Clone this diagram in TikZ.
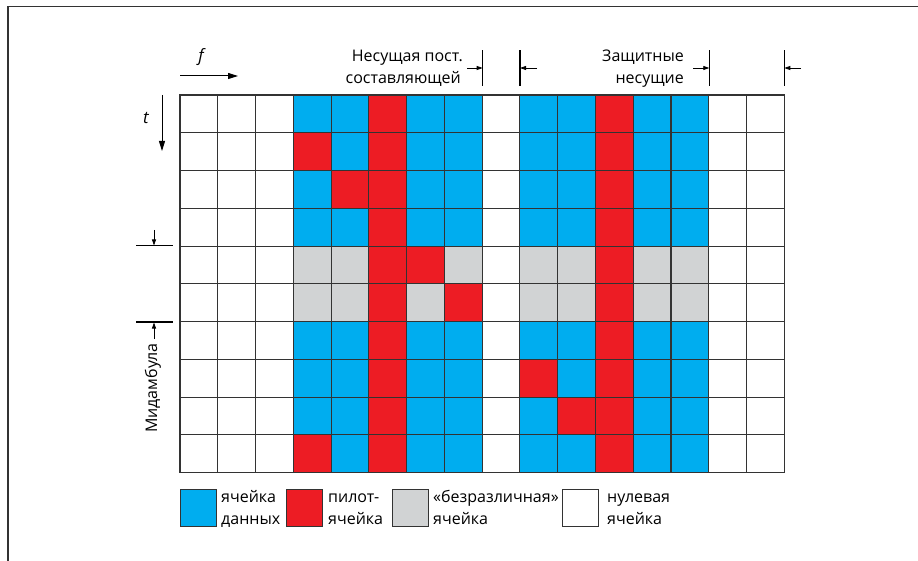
\documentclass[tikz,border=0pt]{standalone}
\usepackage{fontspec}
\setmainfont{Open Sans}
\usetikzlibrary{arrows.meta}
\definecolor{cB}{HTML}{00ADEF}
\definecolor{cR}{HTML}{ED1C24}
\definecolor{cG}{HTML}{D1D3D4}
\definecolor{cW}{HTML}{FFFFFF}
\definecolor{cline}{HTML}{333333}
\begin{document}
\begin{tikzpicture}[x=1pt,y=-1pt,
  lbl/.style={font=\fontsize{16}{19}\selectfont, inner sep=0pt},
  cellline/.style={draw=cline, line width=1.1pt},
  bar/.style={line width=1.5pt, black},
  smallarr/.style={line width=0.8pt, -{Triangle[length=6pt,width=4pt]}},
  bigarr/.style={line width=1pt, -{Triangle[length=10pt,width=6pt]}},
  legbox/.style={draw=cline, line width=1pt, minimum width=36pt, minimum height=37pt, inner sep=0pt, anchor=north west}]
\useasboundingbox (0,0) rectangle (918,561);
\draw[line width=1.5pt, cline] (8,561) -- (8,6.5) -- (918,6.5);
% grid
\foreach \row [count=\r from 0] in {
 {W,W,W,B,B,R,B,B,W,B,B,R,B,B,W,W},
 {W,W,W,R,B,R,B,B,W,B,B,R,B,B,W,W},
 {W,W,W,B,R,R,B,B,W,B,B,R,B,B,W,W},
 {W,W,W,B,B,R,B,B,W,B,B,R,B,B,W,W},
 {W,W,W,G,G,R,R,G,W,G,G,R,G,G,W,W},
 {W,W,W,G,G,R,G,R,W,G,G,R,G,G,W,W},
 {W,W,W,B,B,R,B,B,W,B,B,R,B,B,W,W},
 {W,W,W,B,B,R,B,B,W,R,B,R,B,B,W,W},
 {W,W,W,B,B,R,B,B,W,B,R,R,B,B,W,W},
 {W,W,W,R,B,R,B,B,W,B,B,R,B,B,W,W}} {
  \foreach \c [count=\k from 0] in \row {
    \path[fill=c\c, cellline] ({180+\k*37.77},{95+\r*37.77}) rectangle ++(37.77,37.77);
  }
}
% f and t axes
\node[lbl, font=\fontsize{17}{19}\selectfont\itshape] (f) at (201,57) {f};
\coordinate (fa) at (180,76); \coordinate (fb) at (238,76);
\draw[bigarr] (fa) -- (fb);
\node[lbl, font=\fontsize{17}{19}\selectfont\itshape] (t) at (146,118) {t};
\coordinate (ta) at (162,95); \coordinate (tb) at (162,151);
\draw[bigarr] (ta) -- (tb);
% midamble
\coordinate (m1a) at (136,246); \coordinate (m1b) at (173,246);
\coordinate (m2a) at (136,322); \coordinate (m2b) at (173,322);
\draw[line width=1pt] (m1a) -- (m1b);
\draw[line width=1.5pt] (m2a) -- (m2b);
\coordinate (a1s) at (154,230); \coordinate (a1e) at (154,245.5);
\draw[smallarr] (a1s) -- (a1e);
\coordinate (a2s) at (154,339); \coordinate (a2e) at (154,322.5);
\draw[smallarr] (a2s) -- (a2e);
\node[lbl, rotate=90] (mid) at (153,388) {Мидамбула};
% top annotations
\node[lbl, anchor=base east] (n1) at (463,62) {Несущая пост.};
\node[lbl, anchor=base east] (n2) at (461,83.5) {составляющей};
\node[lbl, anchor=base east] (z1) at (684,62) {Защитные};
\node[lbl, anchor=base east] (z2) at (684,83.5) {несущие};
\foreach \x/\nm in {482.7/b1, 520/b2, 709.3/b3, 784.3/b4} {
  \coordinate (\nm t) at (\x,50.5); \coordinate (\nm b) at (\x,86);
  \draw[bar] (\nm t) -- (\nm b);
  \coordinate (\nm m) at (\x,68);
}
\coordinate (r1) at (467,68); \coordinate (r2) at (537,68);
\coordinate (r3) at (693,68); \coordinate (r4) at (801,68);
\draw[smallarr] (r1) -- (b1m);
\draw[smallarr] (r2) -- (b2m);
\draw[smallarr] (r3) -- (b3m);
\draw[smallarr] (r4) -- (b4m);
% legend
\node[legbox, fill=cB] (lb) at (180,488.5) {};
\node[legbox, fill=cR] (lr) at (286,488.5) {};
\node[legbox, fill=cG] (lg) at (392,488.5) {};
\node[legbox, fill=cW] (lw) at (562,488.5) {};
\node[lbl, anchor=base west] (tb1) at (221,502.5) {ячейка};
\node[lbl, anchor=base west] (tb2) at (221,524.5) {данных};
\node[lbl, anchor=base west] (tr1) at (328,502.5) {пилот-};
\node[lbl, anchor=base west] (tr2) at (328,524.5) {ячейка};
\node[lbl, anchor=base west] (tg1) at (433,502.5) {«безразличная»};
\node[lbl, anchor=base west] (tg2) at (433,524.5) {ячейка};
\node[lbl, anchor=base west] (tw1) at (607,502.5) {нулевая};
\node[lbl, anchor=base west] (tw2) at (607,524.5) {ячейка};
\end{tikzpicture}
\end{document}
